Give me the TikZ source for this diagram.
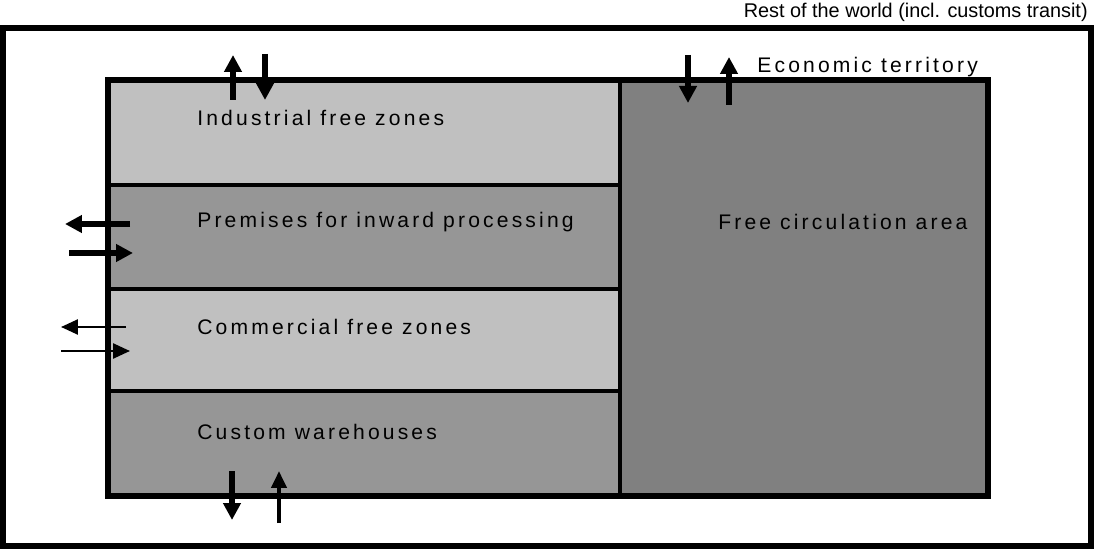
\documentclass[tikz,border=0pt]{standalone}
\usepackage{fontspec}
\newfontfamily\zonefamily[LetterSpace=15]{Liberation Sans}
\newfontfamily\worldfamily{Liberation Sans}
\newcommand\zonefont{\zonefamily\fontsize{12pt}{14pt}\selectfont}
\newcommand\worldfont{\worldfamily\fontsize{11.3pt}{13pt}\selectfont}
\usetikzlibrary{arrows.meta}
\definecolor{lightzone}{HTML}{C0C0C0}
\definecolor{midzone}{HTML}{969696}
\definecolor{freezone}{HTML}{808080}

\begin{document}
\begin{tikzpicture}[x=0.02cm,y=-0.02cm,
  border/.style={line width=0.12cm},
  divider/.style={line width=0.07cm},
  zone label/.style={anchor=west,inner sep=0pt,font=\zonefont},
  big flow/.style={line width=0.12cm,-{Triangle[length=0.34cm,width=0.34cm]}},
  small flow/.style={line width=0.05cm,-{Triangle[length=0.34cm,width=0.3cm]}}]

  \useasboundingbox (0,0) rectangle (1095,550);

  % rest of the world
  \draw[border] (3,28) rectangle (1091,546);
  \node[zone label,anchor=east,font=\worldfont] (world) at (1088,12) {Rest of the world (incl. customs transit)};

  % economic territory
  \fill[lightzone] (108,80) rectangle (620,185);
  \fill[midzone] (108,185) rectangle (620,289);
  \fill[lightzone] (108,289) rectangle (620,391);
  \fill[midzone] (108,391) rectangle (620,496);
  \fill[freezone] (620,80) rectangle (988,496);
  \draw[divider] (108,185) -- (620,185) (108,289) -- (620,289) (108,391) -- (620,391);
  \draw[divider] (620,80) -- (620,496);
  \draw[border] (108,80) rectangle (988,496);

  \node[zone label] (eco) at (757,67) {Economic territory};
  \node[zone label] (ind) at (197,118) {Industrial free zones};
  \node[zone label] (inw) at (197,222) {Premises for inward processing};
  \node[zone label] (com) at (197,327) {Commercial free zones};
  \node[zone label] (cus) at (197,432) {Custom warehouses};
  \node[zone label] (fca) at (718,222) {Free circulation area};

  % flows
  \coordinate (ind out a) at (233,100);  \coordinate (ind out b) at (233,55);
  \coordinate (ind in a) at (265,54);    \coordinate (ind in b) at (265,100);
  \coordinate (fca in a) at (688,55);    \coordinate (fca in b) at (688,103);
  \coordinate (fca out a) at (729,105);  \coordinate (fca out b) at (729,57);
  \coordinate (inw out a) at (130,224);  \coordinate (inw out b) at (65,224);
  \coordinate (inw in a) at (69,253);    \coordinate (inw in b) at (133,253);
  \coordinate (com out a) at (126,327);  \coordinate (com out b) at (61,327);
  \coordinate (com in a) at (61,351);    \coordinate (com in b) at (130,351);
  \coordinate (cus out a) at (232,471);  \coordinate (cus out b) at (232,520);
  \coordinate (cus in a) at (279,523);   \coordinate (cus in b) at (279,471);

  \draw[big flow] (ind out a) -- (ind out b);
  \draw[big flow] (ind in a) -- (ind in b);
  \draw[big flow] (fca in a) -- (fca in b);
  \draw[big flow] (fca out a) -- (fca out b);
  \draw[big flow] (inw out a) -- (inw out b);
  \draw[big flow] (inw in a) -- (inw in b);
  \draw[small flow] (com out a) -- (com out b);
  \draw[small flow] (com in a) -- (com in b);
  \draw[big flow] (cus out a) -- (cus out b);
  \draw[small flow,line width=0.08cm] (cus in a) -- (cus in b);
\end{tikzpicture}
\end{document}
